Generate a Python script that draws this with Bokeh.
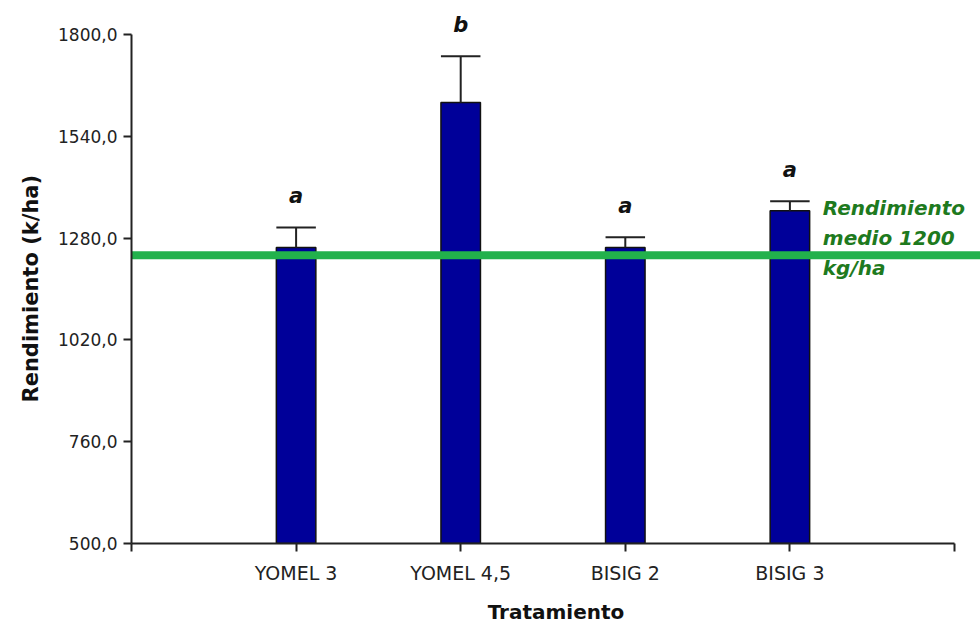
from bokeh.plotting import figure
from bokeh.models import FixedTicker, ColumnDataSource, Range1d, LabelSet, Title
from bokeh.core.properties import value
from bokeh.embed import file_html
from bokeh.resources import INLINE

# ---- data ----
tratamientos = ["YOMEL 3", "YOMEL 4,5", "BISIG 2", "BISIG 3"]
rendimiento = [1256, 1626, 1256, 1350]
error_sup = [51, 118, 26, 24]
letras = ["a", "b", "a", "a"]
rendimiento_medio = 1236
texto_medio = "Rendimiento\nmedio 1200\nkg/ha"
y_ticks = [500, 760, 1020, 1280, 1540, 1800]
y_min, y_max = 500, 1800

xs = list(range(1, len(tratamientos) + 1))
bar_w = 0.24
upper = [v + e for v, e in zip(rendimiento, error_sup)]

src = ColumnDataSource(dict(
    x=xs, top=rendimiento, upper=upper, letra=letras,
    cap_l=[x - bar_w / 2 for x in xs], cap_r=[x + bar_w / 2 for x in xs],
))

x_end = 849 / 164.6
p = figure(width=980, height=628, output_backend="svg", toolbar_location=None,
           x_range=Range1d(0, x_end), y_range=Range1d(y_min, y_max + 56),
           min_border_left=131, min_border_right=0, min_border_top=12,
           min_border_bottom=85)
p.outline_line_color = None
p.xgrid.grid_line_color = None
p.ygrid.grid_line_color = None
p.background_fill_color = "white"

# bars
p.vbar(x="x", top="top", bottom=y_min, width=bar_w, source=src,
       fill_color="#000099", line_color="#111111", line_width=1.5)
# error bars (upper only)
p.segment(x0="x", y0="top", x1="x", y1="upper", source=src,
          line_color="#222222", line_width=2)
p.segment(x0="cap_l", y0="upper", x1="cap_r", y1="upper", source=src,
          line_color="#222222", line_width=2)

# mean line
p.line(x=[0, x_end], y=[rendimiento_medio, rendimiento_medio],
       line_color="#22b14c", line_width=8, line_cap="round")

# significance letters
letras_ls = LabelSet(x="x", y="upper", text="letra", source=src,
                     text_font=value("DejaVu Sans"), text_font_style="bold italic",
                     text_font_size="21px", text_color="#111111",
                     text_align="center", text_baseline="bottom", y_offset=19)
p.add_layout(letras_ls)

# mean label
p.text(x=[xs[-1] + bar_w / 2 + 0.08], y=[rendimiento_medio], text=[texto_medio],
       text_font=value("DejaVu Sans"), text_font_style="bold italic",
       text_font_size="20px", text_color="#1e7a1e", text_line_height=1.25,
       text_align="left", text_baseline="middle", y_offset=-17)

# axes
ax = p.xaxis[0]
ax.bounds = (0, len(tratamientos) + 1)
ax.ticker = FixedTicker(ticks=list(range(0, len(tratamientos) + 2)))
ax.major_label_overrides = {0: "", len(tratamientos) + 1: "",
                            **{x: t for x, t in zip(xs, tratamientos)}}
ax.minor_tick_line_color = None
ax.major_tick_in = 0
ax.major_tick_out = 8
ax.major_tick_line_width = 2
ax.major_tick_line_color = "#222222"
ax.axis_line_width = 2
ax.axis_line_color = "#222222"
ax.major_label_text_font = "DejaVu Sans"
ax.major_label_text_font_size = "19px"
ax.major_label_text_color = "#222222"
ax.major_label_standoff = 10
ax.axis_label = "Tratamiento"
ax.axis_label_text_font = "DejaVu Sans"
ax.axis_label_text_font_style = "bold"
ax.axis_label_text_font_size = "20px"
ax.axis_label_text_color = "#111111"
ax.axis_label_standoff = 13

ay = p.yaxis[0]
ay.bounds = (y_min, y_max)
ay.ticker = FixedTicker(ticks=y_ticks)
ay.major_label_overrides = {t: f"{t:.1f}".replace(".", ",") for t in y_ticks}
ay.minor_tick_line_color = None
ay.major_tick_in = 0
ay.major_tick_out = 8
ay.major_tick_line_width = 2
ay.major_tick_line_color = "#222222"
ay.axis_line_width = 2
ay.axis_line_color = "#222222"
ay.major_label_text_font = "DejaVu Sans"
ay.major_label_text_font_size = "17px"
ay.major_label_text_color = "#222222"
ay.major_label_standoff = 6

# y-axis title, centred on the 500-1800 axis span
y_title = Title(text="Rendimiento (k/ha)", align="left", offset=141,
                text_font="DejaVu Sans", text_font_style="bold",
                text_font_size="21px", text_color="#111111", standoff=26)
p.add_layout(y_title, "left")

open("out.html", "w").write(file_html(p, INLINE))
